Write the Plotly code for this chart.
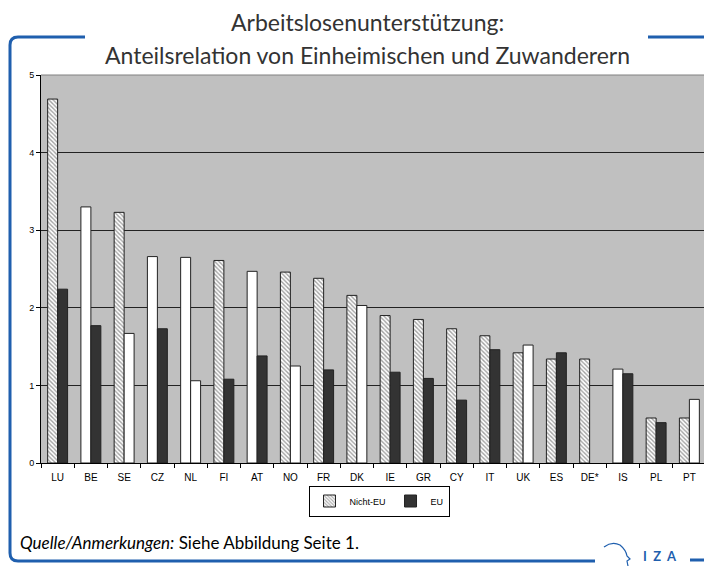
import plotly.graph_objects as go

# Daten
laender = ['LU', 'BE', 'SE', 'CZ', 'NL', 'FI', 'AT', 'NO', 'FR', 'DK',
           'IE', 'GR', 'CY', 'IT', 'UK', 'ES', 'DE*', 'IS', 'PL', 'PT']
nicht_eu = [4.69, 3.30, 3.23, 2.66, 2.65, 2.61, 2.47, 2.46, 2.38, 2.16,
            1.90, 1.85, 1.73, 1.64, 1.42, 1.34, 1.34, 1.21, 0.58, 0.58]
eu = [2.24, 1.77, 1.67, 1.73, 1.06, 1.08, 1.38, 1.25, 1.20, 2.03,
      1.17, 1.09, 0.81, 1.46, 1.52, 1.42, None, 1.15, 0.52, 0.82]
# Darstellung der Balken wie im Original (h = schraffiert, w = weiss, s = schwarz)
stil_nicht_eu = ['h', 'w', 'h', 'w', 'w', 'h', 'w', 'h', 'h', 'h',
                 'h', 'h', 'h', 'h', 'h', 'h', 'h', 'w', 'h', 'h']
stil_eu = ['s', 's', 'w', 's', 'w', 's', 's', 'w', 's', 'w',
           's', 's', 's', 's', 'w', 's', 's', 's', 's', 'w']

# Seite hat 8px Rand, daher Figur kleiner und Koordinaten verschoben
O = 8
W, H = 704, 558
L, R, T, B = 33, 6, 67, 103
BLAU = '#1f5fae'


def px(x):
    return (x - O - L) / (W - L - R)


def py(y):
    return (H - B - (y - O)) / (H - T - B)


def farben(stil):
    col = {'h': 'white', 'w': 'white', 's': '#333333'}
    return [col[s] for s in stil]


def muster(stil):
    return ['\\' if s == 'h' else '' for s in stil]


fig = go.Figure()
fig.add_trace(go.Bar(
    x=laender, y=nicht_eu, name='Nicht-EU',
    marker=dict(color=farben(stil_nicht_eu), line=dict(color='#222222', width=1),
                pattern=dict(shape=muster(stil_nicht_eu), fgcolor='#555555',
                             bgcolor='white', size=3, solidity=0.45))
))
fig.add_trace(go.Bar(
    x=laender, y=eu, name='EU',
    marker=dict(color=farben(stil_eu), line=dict(color='#222222', width=1))
))

fig.update_layout(
    width=W, height=H,
    margin=dict(l=L, r=R, t=T, b=B),
    paper_bgcolor='white', plot_bgcolor='#c0c0c0',
    barmode='group', bargap=0.4, bargroupgap=0,
    font=dict(family='Arial', size=10, color='black'),
    showlegend=True,
    legend=dict(orientation='h', x=px(379), y=py(501), xanchor='center', yanchor='middle',
                bordercolor='black', borderwidth=1, bgcolor='white',
                font=dict(size=9), itemwidth=30, tracegroupgap=0),
    xaxis=dict(tickson='boundaries', ticks='outside', ticklen=4, tickcolor='black',
               showline=True, linecolor='black', linewidth=1, showgrid=False,
               tickfont=dict(size=10), ticklabelstandoff=5),
    yaxis=dict(range=[0, 5], dtick=1, ticks='outside', ticklen=4, tickcolor='black',
               showline=True, linecolor='black', linewidth=1,
               gridcolor='#222222', gridwidth=1, tickfont=dict(size=9),
               zeroline=False),
)

# grauer Rahmen oben/rechts
fig.add_shape(type='line', xref='paper', yref='paper', x0=0, x1=1, y0=1, y1=1,
              line=dict(color='#808080', width=1))
fig.add_shape(type='line', xref='paper', yref='paper', x0=1, x1=1, y0=0, y1=1,
              line=dict(color='#808080', width=1))

# Titel
titel = ['Arbeitslosenunterstützung:', 'Anteilsrelation von Einheimischen und Zuwanderern']
for i, t in enumerate(titel):
    fig.add_annotation(text=t, xref='paper', yref='paper', x=px(367), y=py(22 + 33 * i),
                       xanchor='center', yanchor='middle', showarrow=False,
                       font=dict(family='Lato', size=23, color='#333333'))

# blauer Rahmen
rahmen = (f"M {px(85)},{py(37)} L {px(18)},{py(37)} Q {px(10)},{py(37)} {px(10)},{py(45)} "
          f"L {px(10)},{py(553)} Q {px(10)},{py(561)} {px(18)},{py(561)} L {px(595)},{py(561)}")
fig.add_shape(type='path', xref='paper', yref='paper', path=rahmen,
              line=dict(color=BLAU, width=3))
fig.add_shape(type='line', xref='paper', yref='paper', x0=px(648), x1=px(712),
              y0=py(37), y1=py(37), line=dict(color=BLAU, width=3))
fig.add_shape(type='line', xref='paper', yref='paper', x0=px(690), x1=px(712),
              y0=py(560), y1=py(560), line=dict(color=BLAU, width=3))

# IZA Logo
logo = (f"M {px(604)},{py(547)} Q {px(612)},{py(541)} {px(620)},{py(545)} "
        f"Q {px(626)},{py(550)} {px(627)},{py(556)} L {px(630)},{py(559)} "
        f"L {px(627)},{py(561)} L {px(628)},{py(566)}")
fig.add_shape(type='path', xref='paper', yref='paper', path=logo,
              line=dict(color=BLAU, width=1.2))
fig.add_annotation(text='<b>I  Z  A</b>', xref='paper', yref='paper', x=px(660), y=py(556),
                   xanchor='center', yanchor='middle', showarrow=False,
                   font=dict(family='Lato', size=13, color=BLAU))

# Quelle
fig.add_annotation(text='<i>Quelle/Anmerkungen:</i> Siehe Abbildung Seite 1.',
                   xref='paper', yref='paper', x=px(18), y=py(542),
                   xanchor='left', yanchor='middle', showarrow=False,
                   font=dict(family='Lato', size=17, color='black'))

fig.write_html("out.html")
